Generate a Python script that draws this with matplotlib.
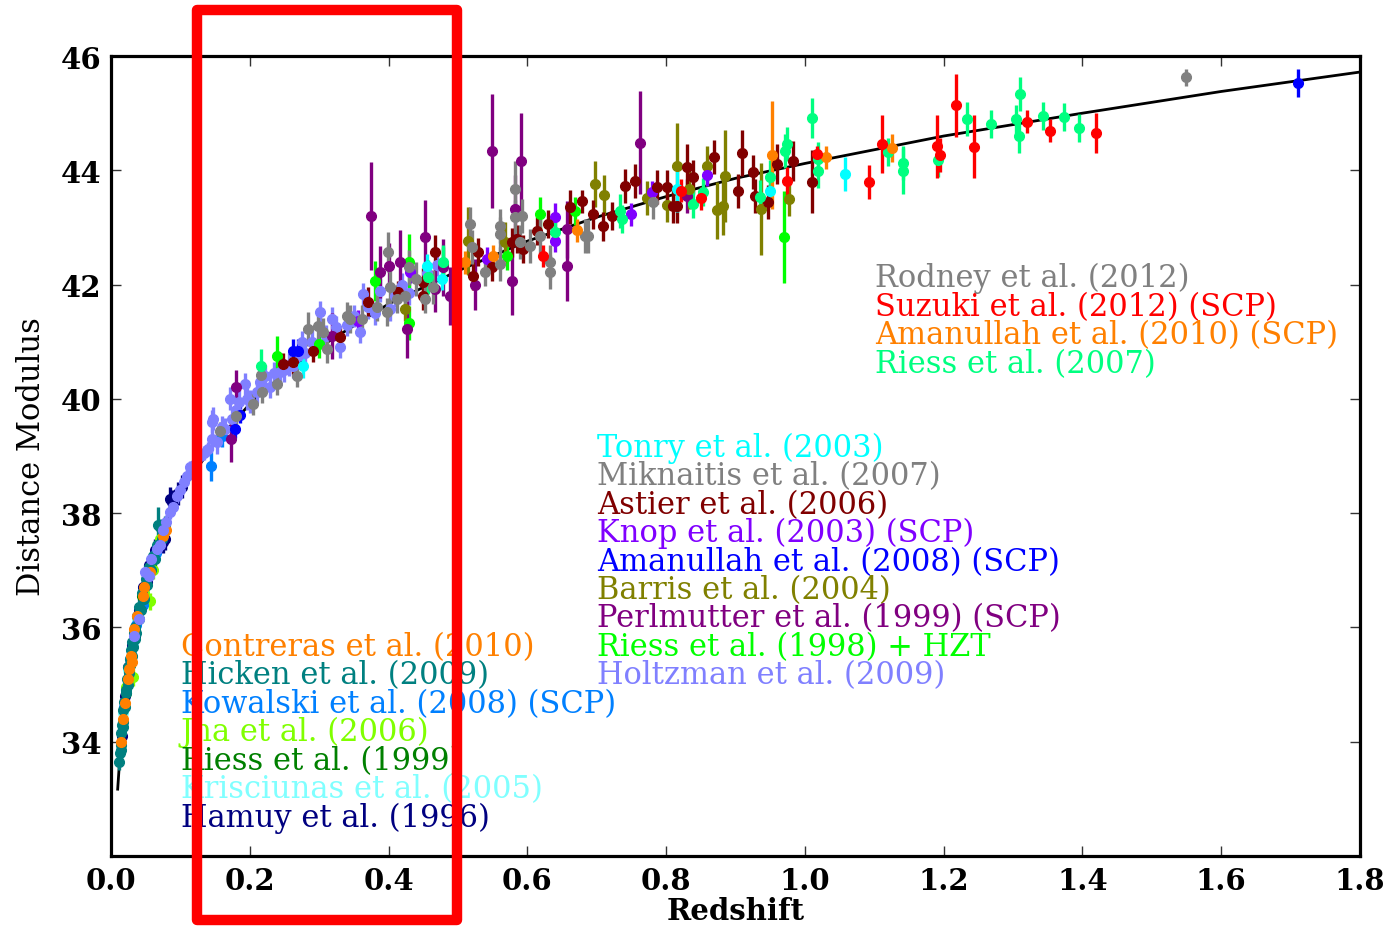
"""Hubble diagram of SN Ia distance moduli vs redshift, with a highlighted z range."""

import matplotlib
matplotlib.use("Agg")
import matplotlib.pyplot as plt
from matplotlib.patches import Rectangle

# model curve
curve_z = [0.0097, 0.012, 0.015, 0.02, 0.025, 0.03, 0.04, 0.05, 0.06, 0.07, 0.08, 0.1, 0.12, 0.15,
           0.2, 0.25, 0.3, 0.35, 0.4, 0.5, 0.6, 0.7, 0.8, 0.9, 1.0, 1.2, 1.4, 1.6, 1.8]
curve_mu = [33.17, 33.58, 34.06, 34.70, 35.19, 35.60, 36.24, 36.74, 37.15, 37.51, 37.81, 38.33, 38.72, 39.22,
            39.91, 40.45, 40.90, 41.28, 41.66, 42.24, 42.76, 43.18, 43.54, 43.86, 44.12, 44.60, 45.00, 45.38, 45.72]

# ---- low-redshift samples ----
hamuy_z = [0.016, 0.02, 0.025, 0.03, 0.035, 0.040, 0.046, 0.052, 0.055, 0.063, 0.075, 0.078, 0.085, 0.088, 0.097, 0.102]
hamuy_mu = [34.1, 34.8, 35.3, 35.7, 35.85, 36.3, 36.7, 36.8, 37.1, 37.35, 37.5, 37.55, 38.25, 38.2, 38.35, 38.46]
hamuy_err = [0.15, 0.15, 0.15, 0.15, 0.15, 0.15, 0.2, 0.2, 0.15, 0.2, 0.2, 0.2, 0.2, 0.2, 0.2, 0.2]

krisciunas_z = [0.018, 0.025, 0.032, 0.038]
krisciunas_mu = [34.5, 35.25, 35.7, 36.15]
krisciunas_err = [0.15, 0.15, 0.15, 0.15]

riess99_z = [0.021, 0.027, 0.035, 0.045, 0.058]
riess99_mu = [34.85, 35.35, 35.95, 36.55, 37.05]
riess99_err = [0.15, 0.15, 0.15, 0.15, 0.15]

jha_z = [0.022, 0.032, 0.048, 0.056, 0.06, 0.07]
jha_mu = [34.95, 35.13, 36.6, 36.46, 37.0, 37.55]
jha_err = [0.15, 0.15, 0.15, 0.15, 0.15, 0.15]

kowalski_z = [0.019, 0.028, 0.036, 0.046, 0.065, 0.144, 0.16]
kowalski_mu = [34.6, 35.45, 36.05, 36.4, 37.3, 38.82, 39.35]
kowalski_err = [0.15, 0.15, 0.15, 0.15, 0.15, 0.25, 0.2]

hicken_z = [0.012, 0.013, 0.014, 0.015, 0.015, 0.016, 0.017, 0.018, 0.018, 0.019, 0.020, 0.021, 0.022,
            0.023, 0.024, 0.025, 0.026, 0.027, 0.028, 0.029, 0.030, 0.031, 0.032, 0.033, 0.034, 0.035,
            0.036, 0.038, 0.040, 0.041, 0.043, 0.045, 0.047, 0.050, 0.052, 0.055, 0.058, 0.060, 0.063,
            0.066, 0.068, 0.070, 0.074, 0.078]
hicken_mu = [33.65, 33.8, 33.85, 34.15, 33.95, 34.3, 34.25, 34.55, 34.35, 34.7, 34.6, 34.9, 34.85,
             35.1, 35.0, 35.3, 35.2, 35.45, 35.35, 35.6, 35.5, 35.75, 35.65, 35.9, 35.8, 36.0,
             35.9, 36.2, 36.15, 36.35, 36.3, 36.6, 36.5, 36.85, 36.75, 37.05, 37.0, 37.25, 37.2,
             37.45, 37.8, 37.75, 37.55, 37.8]
hicken_err = [0.15] * 40 + [0.3, 0.15, 0.15, 0.15]

contreras_z = [0.0145, 0.0175, 0.020, 0.024, 0.026, 0.029, 0.030, 0.033, 0.038, 0.046, 0.048, 0.056, 0.075, 0.080]
contreras_mu = [34.0, 34.4, 34.67, 35.1, 35.27, 35.5, 35.4, 35.97, 36.2, 36.55, 36.7, 36.97, 37.6, 37.7]
contreras_err = [0.1] * 14

holtzman_z = [0.033, 0.04, 0.049, 0.055, 0.058, 0.066, 0.07, 0.075, 0.08, 0.085, 0.09, 0.095, 0.1, 0.105,
              0.11, 0.114, 0.12, 0.128, 0.134, 0.14, 0.146, 0.147, 0.153, 0.146, 0.16, 0.164, 0.171, 0.174,
              0.18, 0.185, 0.193, 0.196, 0.2, 0.21, 0.215, 0.222, 0.229, 0.235, 0.244, 0.25, 0.256, 0.262,
              0.27, 0.275, 0.28, 0.29, 0.301, 0.31, 0.318, 0.325, 0.33, 0.34, 0.35, 0.359, 0.363, 0.37,
              0.38, 0.388, 0.402, 0.41, 0.42, 0.43, 0.455, 0.47]
holtzman_mu = [35.85, 36.15, 36.97, 36.9, 37.2, 37.37, 37.45, 37.7, 37.85, 38.02, 38.1, 38.3, 38.4, 38.55,
               38.65, 38.8, 38.85, 39.0, 39.05, 39.12, 39.3, 39.65, 39.24, 39.6, 39.5, 39.47, 40.0, 39.65,
               39.8, 39.95, 40.26, 40.0, 39.95, 40.12, 40.3, 40.4, 40.21, 40.45, 40.47, 40.5, 40.6, 40.57,
               40.75, 40.99, 40.8, 41.0, 41.52, 41.1, 41.4, 41.25, 40.91, 41.3, 41.45, 41.17, 41.83, 41.6,
               41.5, 41.89, 41.57, 41.8, 42.0, 41.85, 42.2, 42.35]
holtzman_err = [0.12] * 20 + [0.2] * 44

# ---- intermediate / high-redshift samples ----
riess98_z = [0.239, 0.300, 0.380, 0.429, 0.429, 0.478, 0.571, 0.618, 0.669, 0.970]
riess98_mu = [40.75, 40.96, 42.06, 42.39, 41.33, 42.36, 42.50, 43.23, 43.29, 42.83]
riess98_err = [0.35, 0.25, 0.35, 0.5, 0.3, 0.3, 0.25, 0.3, 0.25, 0.8]

perlmutter_z = [0.173, 0.180, 0.318, 0.375, 0.388, 0.400, 0.416, 0.426, 0.452, 0.467, 0.478, 0.488, 0.496,
                0.524, 0.549, 0.578, 0.583, 0.591, 0.657, 0.657, 0.762, 0.830]
perlmutter_mu = [39.3, 40.2, 41.1, 43.2, 42.22, 42.33, 42.4, 41.22, 42.83, 41.92, 42.3, 41.8, 41.6,
                 42.0, 44.34, 42.06, 43.32, 44.16, 42.97, 42.32, 44.48, 43.55]
perlmutter_err = [0.4, 0.3, 0.4, 0.95, 0.45, 0.4, 0.55, 0.5, 0.65, 0.4, 0.5, 0.5, 0.4,
                  0.45, 1.0, 0.6, 0.6, 0.85, 0.5, 0.6, 0.9, 0.3]

barris_z = [0.424, 0.514, 0.568, 0.697, 0.710, 0.772, 0.801, 0.816, 0.833, 0.859, 0.873, 0.882, 0.885, 0.937, 0.977]
barris_mu = [41.57, 42.76, 42.74, 43.76, 43.57, 43.51, 43.39, 44.07, 43.67, 44.07, 43.30, 43.37, 43.9, 43.32, 43.50]
barris_err = [0.2, 0.6, 0.35, 0.4, 0.35, 0.3, 0.3, 0.75, 0.35, 0.35, 0.5, 0.5, 0.8, 0.8, 0.3]

amanullah08_z = [0.179, 0.186, 0.262, 0.269, 1.710]
amanullah08_mu = [39.47, 39.72, 40.84, 40.84, 45.53]
amanullah08_err = [0.15, 0.15, 0.2, 0.2, 0.25]

knop_z = [0.356, 0.431, 0.542, 0.640, 0.640, 0.750, 0.780, 0.859]
knop_mu = [41.36, 42.22, 42.45, 43.18, 42.77, 43.23, 43.62, 43.92]
knop_err = [0.2, 0.2, 0.2, 0.25, 0.2, 0.2, 0.2, 0.2]

astier_z = [0.248, 0.262, 0.291, 0.330, 0.370, 0.414, 0.450, 0.450, 0.467, 0.522, 0.529, 0.549, 0.578, 0.585,
            0.594, 0.614, 0.630, 0.661, 0.679, 0.695, 0.709, 0.722, 0.741, 0.755, 0.787, 0.801, 0.810,
            0.816, 0.830, 0.839, 0.869, 0.903, 0.909, 0.925, 0.928, 0.947, 0.960, 0.983, 1.010]
astier_mu = [40.61, 40.64, 40.84, 41.08, 41.70, 41.87, 42.04, 41.80, 42.57, 42.15, 42.57, 42.31, 42.74, 42.80,
             42.62, 42.94, 43.06, 43.36, 43.46, 43.23, 43.02, 43.20, 43.72, 43.81, 43.71, 43.71, 43.37,
             43.37, 44.06, 43.88, 44.23, 43.64, 44.30, 43.97, 43.55, 43.44, 44.11, 44.16, 43.80]
astier_err = [0.2, 0.2, 0.2, 0.2, 0.25, 0.2, 0.25, 0.25, 0.3, 0.25, 0.25, 0.25, 0.25, 0.25,
              0.25, 0.25, 0.25, 0.3, 0.2, 0.25, 0.25, 0.25, 0.3, 0.3, 0.3, 0.3, 0.3,
              0.3, 0.4, 0.3, 0.3, 0.3, 0.4, 0.3, 0.3, 0.3, 0.35, 0.35, 0.55]

miknaitis_z = [0.157, 0.180, 0.205, 0.216, 0.218, 0.239, 0.268, 0.284, 0.298, 0.305, 0.311, 0.340, 0.344,
               0.362, 0.383, 0.398, 0.399, 0.402, 0.412, 0.424, 0.430, 0.440, 0.452, 0.464, 0.517, 0.520,
               0.539, 0.561, 0.561, 0.561, 0.582, 0.582, 0.589, 0.592, 0.604, 0.618, 0.633, 0.633, 0.683,
               0.687, 0.781]
miknaitis_mu = [39.44, 39.70, 39.91, 40.42, 40.12, 40.26, 40.40, 41.22, 41.27, 41.17, 40.87, 41.45, 41.40,
                41.40, 41.61, 41.52, 42.57, 41.96, 41.75, 41.80, 42.30, 42.10, 41.75, 41.96, 43.06, 42.66,
                42.22, 42.88, 43.02, 42.36, 43.67, 43.18, 42.74, 43.20, 42.67, 42.85, 42.22, 42.39, 42.85,
                42.85, 43.44]
miknaitis_err = [0.15, 0.2, 0.2, 0.25, 0.2, 0.2, 0.2, 0.3, 0.25, 0.25, 0.25, 0.25, 0.25,
                 0.25, 0.25, 0.25, 0.35, 0.3, 0.25, 0.25, 0.3, 0.3, 0.25, 0.3, 0.3, 0.3,
                 0.25, 0.3, 0.3, 0.3, 0.5, 0.3, 0.3, 0.3, 0.3, 0.3, 0.3, 0.3, 0.3,
                 0.3, 0.3]

tonry_z = [0.277, 0.455, 0.477, 0.816, 0.950, 1.058]
tonry_mu = [40.57, 42.33, 42.10, 43.67, 43.64, 43.93]
tonry_err = [0.2, 0.2, 0.2, 0.4, 0.25, 0.3]

riess07_z = [0.216, 0.457, 0.478, 0.640, 0.733, 0.736, 0.839, 0.853, 0.935, 0.950, 0.971, 0.974, 1.010,
             1.019, 1.019, 1.120, 1.141, 1.141, 1.192, 1.233, 1.268, 1.304, 1.308, 1.310, 1.343, 1.373, 1.395]
riess07_mu = [40.58, 42.13, 42.40, 42.92, 43.29, 43.15, 43.41, 43.62, 43.53, 43.88, 44.34, 44.46, 44.91,
              44.20, 43.99, 44.32, 44.13, 43.99, 44.18, 44.90, 44.81, 44.90, 44.60, 45.33, 44.95, 44.93, 44.74]
riess07_err = [0.3, 0.3, 0.3, 0.25, 0.3, 0.25, 0.25, 0.25, 0.3, 0.3, 0.3, 0.3, 0.35,
               0.3, 0.3, 0.25, 0.3, 0.4, 0.3, 0.3, 0.25, 0.25, 0.3, 0.3, 0.25, 0.25, 0.25]

amanullah10_z = [0.510, 0.550, 0.671, 0.952, 1.030, 1.125]
amanullah10_mu = [42.39, 42.50, 42.95, 44.27, 44.23, 44.39]
amanullah10_err = [0.2, 0.2, 0.2, 0.95, 0.2, 0.25]

suzuki_z = [0.622, 0.821, 0.850, 0.974, 1.017, 1.092, 1.111, 1.190, 1.195, 1.218, 1.244, 1.320, 1.354, 1.419]
suzuki_mu = [42.50, 43.64, 43.51, 43.81, 44.28, 43.79, 44.46, 44.42, 44.27, 45.14, 44.41, 44.85, 44.69, 44.65]
suzuki_err = [0.2, 0.2, 0.2, 0.25, 0.15, 0.3, 0.5, 0.55, 0.3, 0.55, 0.55, 0.2, 0.2, 0.35]

rodney_z = [1.549]
rodney_mu = [45.63]
rodney_err = [0.15]

# (label, colour, z, mu, err) in drawing order
samples = [
    ("Hamuy et al. (1996)", "#000080", hamuy_z, hamuy_mu, hamuy_err),
    ("Krisciunas et al. (2005)", "#80ffff", krisciunas_z, krisciunas_mu, krisciunas_err),
    ("Riess et al. (1999)", "#008000", riess99_z, riess99_mu, riess99_err),
    ("Jha et al. (2006)", "#80ff00", jha_z, jha_mu, jha_err),
    ("Kowalski et al. (2008) (SCP)", "#0080ff", kowalski_z, kowalski_mu, kowalski_err),
    ("Hicken et al. (2009)", "#008080", hicken_z, hicken_mu, hicken_err),
    ("Contreras et al. (2010)", "#ff8000", contreras_z, contreras_mu, contreras_err),
    ("Holtzman et al. (2009)", "#8080ff", holtzman_z, holtzman_mu, holtzman_err),
    ("Riess et al. (1998) + HZT", "#00ff00", riess98_z, riess98_mu, riess98_err),
    ("Perlmutter et al. (1999) (SCP)", "#800080", perlmutter_z, perlmutter_mu, perlmutter_err),
    ("Barris et al. (2004)", "#808000", barris_z, barris_mu, barris_err),
    ("Amanullah et al. (2008) (SCP)", "#0000ff", amanullah08_z, amanullah08_mu, amanullah08_err),
    ("Knop et al. (2003) (SCP)", "#8000ff", knop_z, knop_mu, knop_err),
    ("Astier et al. (2006)", "#800000", astier_z, astier_mu, astier_err),
    ("Miknaitis et al. (2007)", "#808080", miknaitis_z, miknaitis_mu, miknaitis_err),
    ("Tonry et al. (2003)", "#00ffff", tonry_z, tonry_mu, tonry_err),
    ("Riess et al. (2007)", "#00ff80", riess07_z, riess07_mu, riess07_err),
    ("Amanullah et al. (2010) (SCP)", "#ff8000", amanullah10_z, amanullah10_mu, amanullah10_err),
    ("Suzuki et al. (2012) (SCP)", "#ff0000", suzuki_z, suzuki_mu, suzuki_err),
    ("Rodney et al. (2012)", "#808080", rodney_z, rodney_mu, rodney_err),
]

# text blocks: (x, y of first baseline, labels top to bottom)
colour_of = {s[0]: s[1] for s in samples}
label_blocks = [
    (0.612, 0.712, ["Rodney et al. (2012)", "Suzuki et al. (2012) (SCP)",
                    "Amanullah et al. (2010) (SCP)", "Riess et al. (2007)"]),
    (0.389, 0.5005, ["Tonry et al. (2003)", "Miknaitis et al. (2007)", "Astier et al. (2006)",
                     "Knop et al. (2003) (SCP)", "Amanullah et al. (2008) (SCP)", "Barris et al. (2004)",
                     "Perlmutter et al. (1999) (SCP)", "Riess et al. (1998) + HZT", "Holtzman et al. (2009)"]),
    (0.056, 0.2513, ["Contreras et al. (2010)", "Hicken et al. (2009)", "Kowalski et al. (2008) (SCP)",
                     "Jha et al. (2006)", "Riess et al. (1999)", "Krisciunas et al. (2005)",
                     "Hamuy et al. (1996)"]),
]
line_step = 0.0356

plt.rcParams.update({"font.family": "DejaVu Serif", "font.size": 22})

fig = plt.figure(figsize=(13.92, 9.29), dpi=100)
ax = fig.add_axes([0.0797, 0.0775, 0.8973, 0.8611])

ax.plot(curve_z, curve_mu, color="black", lw=2, zorder=1)
for label, c, z, mu, err in samples:
    ax.errorbar(z, mu, yerr=err, fmt="o", color=c, mec=c, ms=7, elinewidth=2.4, capsize=0, zorder=2)

for x0, y0, labels in label_blocks:
    for i, lab in enumerate(labels):
        ax.text(x0, y0 - i * line_step, lab, color=colour_of[lab], transform=ax.transAxes,
                ha="left", va="baseline", fontsize=22, zorder=5)

ax.set_xlim(0, 1.8)
ax.set_ylim(32, 46)
ax.set_xticks([0.0, 0.2, 0.4, 0.6, 0.8, 1.0, 1.2, 1.4, 1.6, 1.8])
ax.set_yticks([34, 36, 38, 40, 42, 44, 46])
ax.tick_params(direction="in", length=7, width=1, top=True, right=True, labelsize=21, pad=7,
               color="#333333")
for t in ax.get_xticklabels() + ax.get_yticklabels():
    t.set_fontweight("bold")
for sp in ax.spines.values():
    sp.set_linewidth(2.3)
ax.set_xlabel("Redshift", fontsize=21, fontweight="bold", labelpad=1)
ax.set_ylabel("Distance Modulus", fontsize=22, labelpad=10)

# red highlight box drawn over the figure
fig.add_artist(Rectangle((0.1415, 0.0086), 0.1868, 0.9795, transform=fig.transFigure, fill=False,
                         ec="#ff0000", lw=7.5, joinstyle="round", zorder=10))

fig.savefig("out.png", dpi=100)
